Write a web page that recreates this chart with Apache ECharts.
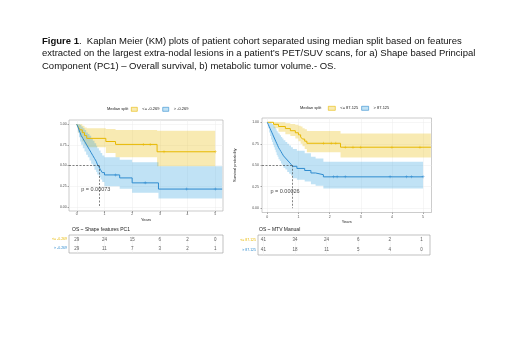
<!DOCTYPE html>
<html>
<head>
<meta charset="utf-8">
<script src="https://cdn.jsdelivr.net/npm/echarts@6/dist/echarts.min.js"></script>
<style>
html, body { margin: 0; padding: 0; background: #fff; }
#main { width: 520px; height: 354px; }
</style>
</head>
<body>
<div id="main"></div>
<script>
var yearTicks = [0, 1, 2, 3, 4, 5];
var probTicks = [0, 0.25, 0.5, 0.75, 1];

// a) Shape based PC1
var pcGroups = ['<= -0.269', '> -0.269'];
var pcLow = [[0, 1], [0.05, 0.966], [0.12, 0.931], [0.2, 0.897], [0.28, 0.862], [0.36, 0.828], [1.05, 0.79], [1.4, 0.755], [2.9, 0.666], [5.0, 0.666]];
var pcLowUpper = [[0, 1], [0.05, 1], [0.12, 1], [0.2, 0.98], [0.28, 0.96], [0.36, 0.95], [1.05, 0.94], [1.4, 0.93], [2.9, 0.92], [5.0, 0.92]];
var pcLowLower = [[0, 1], [0.05, 0.9], [0.12, 0.84], [0.2, 0.79], [0.28, 0.75], [0.36, 0.72], [1.05, 0.65], [1.4, 0.6], [2.9, 0.49], [5.0, 0.49]];
var pcLowCensor = [[2.4, 0.755], [2.65, 0.755], [3.15, 0.666], [5.0, 0.666]];
var pcHigh = [[0, 1], [0.04, 0.966], [0.08, 0.931], [0.12, 0.897], [0.16, 0.862], [0.22, 0.828], [0.28, 0.793], [0.34, 0.759], [0.4, 0.724], [0.46, 0.69], [0.52, 0.655], [0.58, 0.62], [0.64, 0.586], [0.7, 0.552], [0.74, 0.517], [0.8, 0.483], [0.86, 0.448], [0.92, 0.414], [1.0, 0.386], [1.55, 0.35], [2.0, 0.29], [2.95, 0.215], [5.25, 0.215]];
var pcHighUpper = [[0, 1], [0.04, 1], [0.08, 1], [0.12, 0.99], [0.16, 0.97], [0.22, 0.95], [0.28, 0.93], [0.34, 0.9], [0.4, 0.88], [0.46, 0.86], [0.52, 0.83], [0.58, 0.8], [0.64, 0.77], [0.7, 0.74], [0.74, 0.71], [0.8, 0.68], [0.86, 0.65], [0.92, 0.62], [1.0, 0.6], [1.55, 0.57], [2.0, 0.54], [2.95, 0.49], [5.25, 0.49]];
var pcHighLower = [[0, 1], [0.04, 0.9], [0.08, 0.84], [0.12, 0.79], [0.16, 0.75], [0.22, 0.71], [0.28, 0.67], [0.34, 0.63], [0.4, 0.6], [0.46, 0.56], [0.52, 0.52], [0.58, 0.49], [0.64, 0.45], [0.7, 0.42], [0.74, 0.39], [0.8, 0.36], [0.86, 0.33], [0.92, 0.3], [1.0, 0.25], [1.55, 0.22], [2.0, 0.17], [2.95, 0.1], [5.25, 0.1]];
var pcHighCensor = [[1.4, 0.386], [2.47, 0.29], [3.97, 0.215], [5.0, 0.215]];
var pcMedian = 0.82;
var pcPValue = 'p = 0.00073';
var pcPValuePos = [0.16, 0.21];
var pcRiskTitle = 'OS ~ Shape features PC1';
var pcRiskLow = [29, 24, 15, 6, 2, 0];
var pcRiskHigh = [29, 11, 7, 3, 2, 1];

// b) metabolic tumor volume
var mtvGroups = ['<= 87.125', '> 87.125'];
var mtvLow = [[0, 1], [0.2, 0.976], [0.36, 0.951], [0.58, 0.927], [0.74, 0.902], [0.9, 0.878], [1.0, 0.854], [1.07, 0.829], [1.13, 0.805], [1.2, 0.78], [1.27, 0.756], [2.35, 0.71], [5.25, 0.71]];
var mtvLowUpper = [[0, 1], [0.2, 1], [0.36, 1], [0.58, 0.99], [0.74, 0.98], [0.9, 0.97], [1.0, 0.96], [1.07, 0.95], [1.13, 0.93], [1.2, 0.92], [1.27, 0.9], [2.35, 0.87], [5.25, 0.87]];
var mtvLowLower = [[0, 1], [0.2, 0.93], [0.36, 0.89], [0.58, 0.86], [0.74, 0.84], [0.9, 0.81], [1.0, 0.78], [1.07, 0.75], [1.13, 0.72], [1.2, 0.69], [1.27, 0.65], [2.35, 0.59], [5.25, 0.59]];
var mtvLowCensor = [[1.8, 0.756], [2.05, 0.756], [2.2, 0.756], [2.5, 0.71], [2.75, 0.71], [3.0, 0.71], [4.0, 0.71], [4.9, 0.71]];
var mtvHigh = [[0, 1], [0.03, 0.976], [0.06, 0.951], [0.09, 0.927], [0.12, 0.902], [0.15, 0.878], [0.18, 0.854], [0.21, 0.829], [0.24, 0.805], [0.27, 0.78], [0.3, 0.756], [0.33, 0.732], [0.36, 0.707], [0.4, 0.683], [0.44, 0.659], [0.48, 0.634], [0.52, 0.61], [0.58, 0.585], [0.64, 0.561], [0.7, 0.537], [0.76, 0.512], [0.82, 0.488], [0.95, 0.463], [1.2, 0.439], [1.4, 0.41], [1.55, 0.39], [1.8, 0.365], [5.0, 0.365]];
var mtvHighUpper = [[0, 1], [0.03, 1], [0.06, 1], [0.09, 1], [0.12, 0.99], [0.15, 0.98], [0.18, 0.97], [0.21, 0.95], [0.24, 0.94], [0.27, 0.92], [0.3, 0.9], [0.33, 0.88], [0.36, 0.87], [0.4, 0.85], [0.44, 0.83], [0.48, 0.81], [0.52, 0.79], [0.58, 0.77], [0.64, 0.75], [0.7, 0.73], [0.76, 0.71], [0.82, 0.69], [0.95, 0.67], [1.2, 0.64], [1.4, 0.6], [1.55, 0.58], [1.8, 0.54], [5.0, 0.54]];
var mtvHighLower = [[0, 1], [0.03, 0.93], [0.06, 0.88], [0.09, 0.84], [0.12, 0.8], [0.15, 0.77], [0.18, 0.74], [0.21, 0.71], [0.24, 0.68], [0.27, 0.65], [0.3, 0.62], [0.33, 0.6], [0.36, 0.57], [0.4, 0.55], [0.44, 0.52], [0.48, 0.5], [0.52, 0.47], [0.58, 0.45], [0.64, 0.42], [0.7, 0.4], [0.76, 0.38], [0.82, 0.35], [0.95, 0.33], [1.2, 0.31], [1.4, 0.28], [1.55, 0.26], [1.8, 0.23], [5.0, 0.23]];
var mtvHighCensor = [[2.13, 0.365], [2.24, 0.365], [2.5, 0.365], [3.94, 0.365], [4.47, 0.365], [4.63, 0.365], [5.0, 0.365]];
var mtvMedian = 0.79;
var mtvPValue = 'p = 0.00026';
var mtvPValuePos = [0.1, 0.2];
var mtvRiskTitle = 'OS ~ MTV Manual';
var mtvRiskLow = [41, 34, 24, 6, 2, 1];
var mtvRiskHigh = [41, 18, 11, 5, 4, 0];

var caption = '{b|Figure 1}.  Kaplan Meier (KM) plots of patient cohort separated using median split based on features\n' +
  'extracted on the largest extra-nodal lesions in a patient\u2019s PET/SUV scans, for a) Shape based Principal\n' +
  'Component (PC1) \u2013 Overall survival, b) metabolic tumor volume.- OS.';

var YELLOW = '#E7B800';
var BLUE = '#2E8BCF';
var YELLOW_BAND = 'rgba(231,184,0,0.3)';
var BLUE_BAND = 'rgba(46,159,223,0.3)';
var FONT = 'Liberation Sans, Arial, sans-serif';
var plusSymbol = 'path://M-0.18,-1H0.18V-0.18H1V0.18H0.18V1H-0.18V0.18H-1V-0.18H-0.18Z';

function stepPoints(points) {
  var out = [];
  for (var i = 0; i < points.length; i++) {
    if (i > 0) out.push([points[i][0], points[i - 1][1]]);
    out.push(points[i]);
  }
  return out;
}

function bandSeries(idx, upper, lower, color) {
  return {
    type: 'custom', xAxisIndex: idx, yAxisIndex: idx, silent: true, z: 1,
    data: [[0, 1]],
    renderItem: function (params, api) {
      var pts = stepPoints(upper).concat(stepPoints(lower).reverse()).map(function (p) {
        return api.coord(p);
      });
      return { type: 'polygon', shape: { points: pts }, style: { fill: color } };
    }
  };
}

function curveSeries(idx, name, data, color) {
  return {
    type: 'line', name: name, xAxisIndex: idx, yAxisIndex: idx, step: 'end',
    data: data, showSymbol: false, z: 3, color: color,
    lineStyle: { color: color, width: 1 }
  };
}

function censorSeries(idx, name, data, color) {
  return {
    type: 'scatter', name: name, xAxisIndex: idx, yAxisIndex: idx, z: 4,
    data: data, symbol: plusSymbol, symbolSize: 3, itemStyle: { color: color }, silent: true
  };
}

function kmXAxis(idx, min, max, labelMargin) {
  return {
    gridIndex: idx, type: 'value', min: min, max: max,
    axisLine: { show: false, onZero: false },
    axisTick: { show: true, length: 1.5, customValues: yearTicks, lineStyle: { color: '#555', width: 0.5 } },
    axisLabel: { customValues: yearTicks, fontSize: 3.5, color: '#4d4d4d', margin: labelMargin },
    splitLine: { show: true, lineStyle: { color: '#ececec', width: 0.5 } },
    name: 'Years', nameLocation: 'middle', nameGap: 7,
    nameTextStyle: { fontSize: 4, color: '#222' }
  };
}

function kmYAxis(idx, labelMargin, name) {
  return {
    gridIndex: idx, type: 'value', min: -0.05, max: 1.05,
    axisLine: { show: false, onZero: false },
    axisTick: { show: true, length: 1.5, customValues: probTicks, lineStyle: { color: '#555', width: 0.5 } },
    axisLabel: {
      customValues: probTicks, fontSize: 3.5, color: '#4d4d4d', margin: labelMargin,
      formatter: function (v) { return v.toFixed(2); }
    },
    splitLine: { show: true, lineStyle: { color: '#ececec', width: 0.5 } },
    name: name, nameLocation: 'middle', nameGap: 25, nameRotate: 90,
    nameTextStyle: { fontSize: 4, color: '#222' }
  };
}

function tableXAxis(idx, min, max) {
  return {
    gridIndex: idx, type: 'value', min: min, max: max,
    axisLine: { show: false, onZero: false },
    axisTick: { show: false, customValues: yearTicks },
    axisLabel: { show: false },
    splitLine: { show: true, lineStyle: { color: '#eeeeee', width: 0.5 } }
  };
}

function tableYAxis(idx, groups) {
  return {
    gridIndex: idx, type: 'category', data: groups, inverse: true,
    axisLine: { show: false, onZero: false }, axisTick: { show: false },
    axisLabel: {
      fontSize: 3.5, margin: 2,
      color: function (v, i) { return i === 0 ? YELLOW : BLUE; }
    },
    splitLine: { show: false }
  };
}

function riskSeries(idx, group, counts) {
  return {
    type: 'scatter', xAxisIndex: idx, yAxisIndex: idx, symbolSize: 0, silent: true,
    data: yearTicks.map(function (t, i) { return [t, group, counts[i]]; }),
    label: {
      show: true, position: 'inside', fontSize: 4.5, color: '#333',
      formatter: function (p) { return String(p.value[2]); }
    }
  };
}

function pSeries(idx, text, pos) {
  return {
    type: 'scatter', xAxisIndex: idx, yAxisIndex: idx, symbolSize: 0, silent: true, z: 5,
    data: [pos],
    label: { show: true, position: 'right', distance: 0, fontSize: 5.5, color: '#111', formatter: text }
  };
}

function medianLine(xMin, median) {
  return {
    silent: true, symbol: 'none', animation: false,
    label: { show: false },
    lineStyle: { type: [2, 1.5], color: '#333', width: 0.6 },
    data: [
      [{ coord: [xMin, 0.5] }, { coord: [median, 0.5] }],
      [{ coord: [median, 0.5] }, { coord: [median, 0] }]
    ]
  };
}

function legendItems(groups) {
  return [
    { name: groups[0], icon: 'rect', itemStyle: { color: '#f8eab2', borderColor: YELLOW, borderWidth: 0.6 } },
    { name: groups[1], icon: 'rect', itemStyle: { color: '#c0e2f5', borderColor: BLUE, borderWidth: 0.6 } }
  ];
}

function smallTitle(text, left, top, size) {
  return { text: text, left: left, top: top, padding: 0, textStyle: { fontSize: size, fontWeight: 'normal', color: '#222' } };
}

var pcHighLine = curveSeries(0, pcGroups[1], pcHigh, BLUE);
pcHighLine.markLine = medianLine(-0.28, pcMedian);
var mtvHighLine = curveSeries(1, mtvGroups[1], mtvHigh, BLUE);
mtvHighLine.markLine = medianLine(-0.17, mtvMedian);

var myChart = echarts.init(document.getElementById('main'));

var option = {
  backgroundColor: '#fff',
  animation: false,
  textStyle: { fontFamily: FONT },
  title: [
    {
      text: caption, left: 42, top: 35, padding: 0,
      textStyle: {
        fontSize: 9.5, fontWeight: 'normal', color: '#111', lineHeight: 12.5, fontFamily: FONT,
        rich: { b: { fontSize: 9.5, fontWeight: 'bold', color: '#111', lineHeight: 12.5, fontFamily: FONT } }
      }
    },
    smallTitle('Median split', 107, 107, 4),
    smallTitle('Median split', 300, 106, 4),
    smallTitle(pcRiskTitle, 72, 227.5, 5),
    smallTitle(mtvRiskTitle, 259, 227.5, 5)
  ],
  legend: [
    {
      data: legendItems(pcGroups), left: 131, top: 107, padding: 0,
      itemWidth: 6, itemHeight: 4, itemGap: 3, textStyle: { fontSize: 4, color: '#222' }
    },
    {
      data: legendItems(mtvGroups), left: 328, top: 106, padding: 0,
      itemWidth: 7, itemHeight: 4, itemGap: 3, textStyle: { fontSize: 4, color: '#222' }
    }
  ],
  grid: [
    { left: 69, top: 120, width: 154, height: 91, show: true, borderColor: '#aaa', borderWidth: 0.6 },
    { left: 262, top: 118, width: 169.5, height: 94.5, show: true, borderColor: '#aaa', borderWidth: 0.6 },
    { left: 69, top: 235, width: 154, height: 18, show: true, borderColor: '#999', borderWidth: 0.6 },
    { left: 258, top: 235, width: 172, height: 20, show: true, borderColor: '#999', borderWidth: 0.6 }
  ],
  xAxis: [
    kmXAxis(0, -0.28, 5.28, 1),
    kmXAxis(1, -0.17, 5.27, 2.5),
    tableXAxis(2, -0.28, 5.28),
    tableXAxis(3, -0.17, 5.27)
  ],
  yAxis: [
    kmYAxis(0, 2.3, ''),
    kmYAxis(1, 3, 'Survival probability'),
    tableYAxis(2, pcGroups),
    tableYAxis(3, mtvGroups)
  ],
  series: [
    bandSeries(0, pcLowUpper, pcLowLower, YELLOW_BAND),
    bandSeries(0, pcHighUpper, pcHighLower, BLUE_BAND),
    curveSeries(0, pcGroups[0], pcLow, YELLOW),
    pcHighLine,
    censorSeries(0, pcGroups[0], pcLowCensor, YELLOW),
    censorSeries(0, pcGroups[1], pcHighCensor, BLUE),
    pSeries(0, pcPValue, pcPValuePos),

    bandSeries(1, mtvLowUpper, mtvLowLower, YELLOW_BAND),
    bandSeries(1, mtvHighUpper, mtvHighLower, BLUE_BAND),
    curveSeries(1, mtvGroups[0], mtvLow, YELLOW),
    mtvHighLine,
    censorSeries(1, mtvGroups[0], mtvLowCensor, YELLOW),
    censorSeries(1, mtvGroups[1], mtvHighCensor, BLUE),
    pSeries(1, mtvPValue, mtvPValuePos),

    riskSeries(2, pcGroups[0], pcRiskLow),
    riskSeries(2, pcGroups[1], pcRiskHigh),
    riskSeries(3, mtvGroups[0], mtvRiskLow),
    riskSeries(3, mtvGroups[1], mtvRiskHigh)
  ]
};
myChart.setOption(option);
</script>
</body>
</html>
